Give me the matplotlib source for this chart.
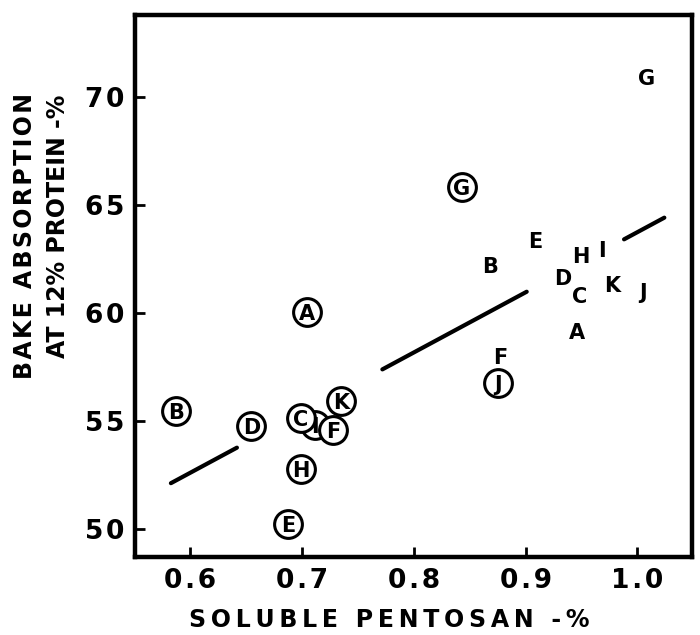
import numpy as np
import matplotlib
matplotlib.use("Agg")
import matplotlib.pyplot as plt

# variety labels
names = list("ABCDEFGHIJK")

# plain letters
x_plain = [0.946, 0.868, 0.948, 0.933, 0.909, 0.877, 1.008, 0.949, 0.968, 1.005, 0.977]
y_plain = [59.19, 62.24, 60.85, 61.67, 63.39, 57.99, 70.96, 62.67, 62.98, 61.03, 61.33]

# circled letters
x_circ = [0.705, 0.588, 0.699, 0.655, 0.688, 0.728, 0.843, 0.699, 0.712, 0.875, 0.735]
y_circ = [60.06, 55.47, 55.13, 54.75, 50.23, 54.60, 65.83, 52.79, 54.82, 56.74, 55.93]

# regression line y = a + b*x, drawn in pieces (gaps around the letters)
fit_a, fit_b = 35.85, 27.9
fit_pieces = [(0.583, 0.642), (0.772, 0.901), (0.988, 1.024)]

xticks = [0.6, 0.7, 0.8, 0.9, 1.0]
yticks = [50, 55, 60, 65, 70]

FONT = "DejaVu Sans"

def track(s, sp="\u2009"):
    # crude letter spacing
    return sp.join(s)

fig = plt.figure(figsize=(7, 6.35), dpi=100)
ax = fig.add_axes([0.193, 0.123, 0.796, 0.853])

# regression line
for x0, x1 in fit_pieces:
    xs = np.array([x0, x1])
    ax.plot(xs, fit_a + fit_b * xs, color="black", lw=3, solid_capstyle="round", zorder=2)

# plain letters
for n, x, y in zip(names, x_plain, y_plain):
    ax.text(x, y, n, ha="center", va="center_baseline", fontsize=15,
            fontweight="bold", family=FONT, zorder=5)

# circled letters
for n, x, y in zip(names, x_circ, y_circ):
    z = 3 if n == "I" else 4
    ax.plot(x, y, marker="o", ms=20, mfc="white", mec="black", mew=2.2, zorder=z)
    ax.text(x, y, n, ha="center", va="center_baseline", fontsize=15,
            fontweight="bold", family=FONT, zorder=6)

ax.set_xlim(0.551, 1.049)
ax.set_ylim(48.70, 73.80)

ax.set_xticks(xticks)
ax.set_xticklabels([track("%.1f" % t, "\u200a") for t in xticks])
ax.set_yticks(yticks)
ax.set_yticklabels([track(str(t), "\u200a") for t in yticks])

ax.tick_params(direction="in", length=7, width=2, pad=8, labelsize=19)
for lab in ax.get_xticklabels() + ax.get_yticklabels():
    lab.set_fontweight("bold")
    lab.set_family(FONT)

for sp in ax.spines.values():
    sp.set_linewidth(3.2)

ax.text(0.456, -0.094, track("SOLUBLE PENTOSAN -%"), transform=ax.transAxes,
        ha="center", va="top", fontsize=17, fontweight="bold", family=FONT)
ax.text(-0.197, 0.592, track("BAKE ABSORPTION", "\u200a"), transform=ax.transAxes, rotation=90,
        ha="center", va="center", fontsize=17, fontweight="bold", family=FONT)
ax.text(-0.138, 0.611, "AT 12% PROTEIN -%", transform=ax.transAxes, rotation=90,
        ha="center", va="center", fontsize=17, fontweight="bold", family=FONT)

plt.savefig("out.png", dpi=100)
